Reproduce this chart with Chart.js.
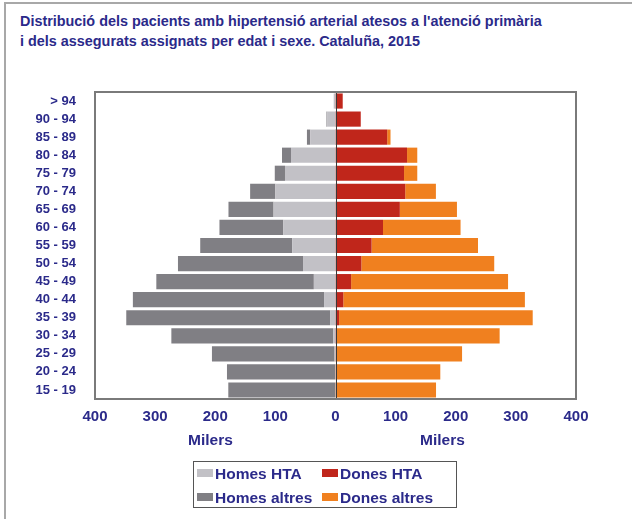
<!DOCTYPE html>
<html>
<head>
<meta charset="utf-8">
<script src="https://cdn.jsdelivr.net/npm/chart.js@4/dist/chart.umd.min.js"></script>
<style>
  html, body { margin: 0; padding: 0; background: #fff; }
  #wrap { position: relative; width: 632px; height: 519px; overflow: hidden; font-family: "Liberation Sans", Arial, sans-serif; color: #2B2A8A; }
  #frameTop { position: absolute; left: 4px; top: 2px; width: 628px; height: 2px; background: #a8a8a8; }
  #frameLeft { position: absolute; left: 4px; top: 2px; width: 2px; height: 517px; background: #a8a8a8; }
  #title { position: absolute; left: 20px; top: 11px; font-weight: bold; font-size: 14.4px; line-height: 20px; white-space: nowrap; }
  canvas { position: absolute; left: 0; top: 0; }
  .milers { position: absolute; top: 431px; font-weight: bold; font-size: 15.5px; }
  #legend { position: absolute; left: 193px; top: 461px; width: 264px; height: 47px; border: 1.5px solid #555; box-sizing: border-box; }
  .item { position: absolute; font-weight: bold; font-size: 15.5px; line-height: 17px; white-space: nowrap; }
  .sw { display: inline-block; width: 16px; height: 8px; margin-right: 2px; vertical-align: 2px; }
</style>
</head>
<body>
<div id="wrap">
  <div id="frameTop"></div>
  <div id="frameLeft"></div>
  <div id="title">Distribució dels pacients amb hipertensió arterial atesos a l'atenció primària<br>i dels assegurats assignats per edat i sexe. Cataluña, 2015</div>
  <canvas id="c" width="632" height="519"></canvas>
  <div class="milers" style="left:188px;">Milers</div>
  <div class="milers" style="left:420px;">Milers</div>
  <div id="legend"></div>
</div>
<script>
const ageGroups = ["> 94","90 - 94","85 - 89","80 - 84","75 - 79","70 - 74","65 - 69","60 - 64","55 - 59","50 - 54","45 - 49","40 - 44","35 - 39","30 - 34","25 - 29","20 - 24","15 - 19"];
const homesHTA    = [3, 14, 42, 74, 84, 100, 103, 87, 72, 54, 36, 19, 9, 4, 1.5, 0.5, 0.3];
const homesAltres = [0, 1, 5.5, 15, 17, 42, 75, 106, 153, 208, 262, 318, 339, 269, 204, 180, 178];
const donesHTA    = [12, 42, 86, 119, 114, 116, 107, 79, 60, 43, 26, 13, 6, 1, 0.5, 0.3, 0.2];
const donesAltres = [0, 0, 5.5, 17, 22, 51, 95, 129, 177, 221, 261, 302, 322, 272, 210, 174, 167];
const xTicks = [-400, -300, -200, -100, 0, 100, 200, 300, 400];

const seriesNames = ["Homes HTA", "Homes altres", "Dones HTA", "Dones altres"];
const seriesColors = ["#C2C1C6", "#807F84", "#C0261B", "#F0801F"];
const navy = "#2B2A8A";

const neg = a => a.map(v => -v);
const datasets = [
  { label: seriesNames[0], data: neg(homesHTA), backgroundColor: seriesColors[0] },
  { label: seriesNames[1], data: neg(homesAltres), backgroundColor: seriesColors[1] },
  { label: seriesNames[2], data: donesHTA, backgroundColor: seriesColors[2] },
  { label: seriesNames[3], data: donesAltres, backgroundColor: seriesColors[3] }
].map(d => Object.assign(d, { stack: "s", barPercentage: 0.84, categoryPercentage: 1.0, borderWidth: 0 }));

const framePlugin = {
  id: "frame",
  afterDatasetsDraw(chart) {
    const { ctx, chartArea: a, scales } = chart;
    const x0 = scales.x.getPixelForValue(0);
    ctx.save();
    ctx.strokeStyle = "#3a3a3a";
    ctx.lineWidth = 1;
    ctx.beginPath();
    ctx.moveTo(Math.round(x0) + 0.5, a.top);
    ctx.lineTo(Math.round(x0) + 0.5, a.bottom);
    ctx.stroke();
    ctx.strokeStyle = "#7a7a7a";
    ctx.lineWidth = 2;
    ctx.strokeRect(a.left, a.top, a.right - a.left, a.bottom - a.top);
    ctx.restore();
  }
};

new Chart(document.getElementById("c"), {
  type: "bar",
  data: { labels: ageGroups, datasets },
  options: {
    indexAxis: "y",
    responsive: false,
    animation: false,
    layout: { padding: { left: 10, top: 92, right: 56, bottom: 0 } },
    plugins: { legend: { display: false }, tooltip: { enabled: false }, title: { display: false } },
    scales: {
      x: {
        stacked: true,
        min: -400, max: 400,
        afterBuildTicks: s => { s.ticks = xTicks.map(v => ({ value: v })); },
        afterFit: s => { s.height = 120; },
        grid: { display: false, drawTicks: false },
        border: { display: false },
        ticks: { color: navy, font: { family: "Liberation Sans", size: 15, weight: "bold" }, padding: 9, callback: v => Math.abs(v) }
      },
      y: {
        stacked: true,
        afterFit: s => { s.width = 85; },
        grid: { display: false, drawTicks: false },
        border: { display: false },
        ticks: { color: navy, font: { family: "Liberation Sans", size: 13, weight: "bold" }, padding: 19, autoSkip: false }
      }
    }
  },
  plugins: [framePlugin]
});

// legend (2 x 2 grid)
const legend = document.getElementById("legend");
const order = [[0, 3, 3], [2, 128, 3], [1, 3, 27], [3, 128, 27]];
order.forEach(([i, l, t]) => {
  const d = document.createElement("div");
  d.className = "item";
  d.style.left = l + "px";
  d.style.top = t + "px";
  d.innerHTML = '<span class="sw" style="background:' + seriesColors[i] + '"></span>' + seriesNames[i];
  legend.appendChild(d);
});
</script>
</body>
</html>
